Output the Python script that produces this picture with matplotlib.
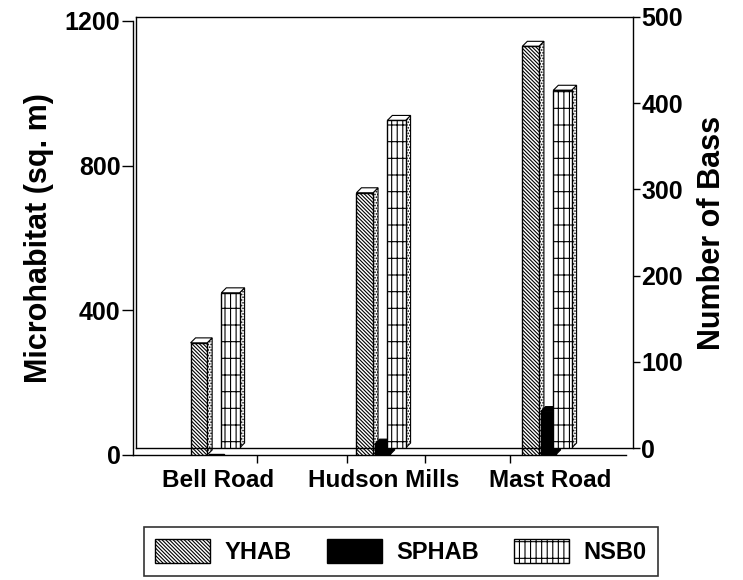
import matplotlib
matplotlib.use("Agg")
import matplotlib.pyplot as plt
from matplotlib.patches import Polygon, Patch
import numpy as np

plt.rcParams['font.family'] = ['Liberation Sans', 'DejaVu Sans']
plt.rcParams['font.weight'] = 'bold'
plt.rcParams['hatch.linewidth'] = 0.8

sites = ["Bell Road", "Hudson Mills", "Mast Road"]
yhab = [310, 725, 1130]      # microhabitat (sq. m), left axis
sphab = [2, 30, 120]         # microhabitat (sq. m), left axis
nsbo = [180, 380, 415]       # number of bass, right axis
left_ticks = [0, 400, 800, 1200]
right_ticks = [0, 100, 200, 300, 400, 500]

W, H = 743, 580
fig = plt.figure(figsize=(W / 100, H / 100), dpi=100)

def fpos(x0, x1, ytop, ybot):
    return [x0 / W, (H - ybot) / H, (x1 - x0) / W, (ybot - ytop) / H]

ax = fig.add_axes(fpos(133, 626, 21, 455))
ax2 = fig.add_axes(fpos(136, 633, 17, 448))
ax2.patch.set_alpha(0)

x = np.arange(len(sites))
ax.set_xlim(-0.512, 2.46)
ax2.set_xlim(-0.494, 2.5)
ax.set_ylim(0, 1200)
ax2.set_ylim(0, 500)

for s in ['top', 'right']:
    ax.spines[s].set_visible(False)
for s in ['bottom', 'top', 'left', 'right']:
    ax2.spines[s].set_visible(True)
for a in (ax, ax2):
    for s in a.spines.values():
        s.set_linewidth(1.0)

ax.set_yticks(left_ticks)
ax.set_yticklabels([str(t) for t in left_ticks], fontsize=18, fontweight='bold')
ax.tick_params(axis='y', direction='out', length=8, width=1, pad=1)
ax.set_xticks(x)
ax.set_xticklabels(sites, fontsize=17.5, fontweight='bold')
ax.tick_params(axis='x', which='major', length=0, pad=10)
ax.set_xticks([0.235, 0.777, 1.247, 1.759], minor=True)
ax.tick_params(axis='x', which='minor', direction='out', length=6, width=1)

ax2.yaxis.tick_right()
ax2.yaxis.set_label_position('right')
ax2.set_yticks(right_ticks)
ax2.set_yticklabels([str(t) for t in right_ticks], fontsize=18, fontweight='bold')
ax2.tick_params(axis='y', direction='out', length=5, width=1, pad=1)
ax2.set_xticks([])

ax.set_ylabel("Microhabitat (sq. m)", fontsize=22, fontweight='bold', labelpad=8)
ax2.set_ylabel("Number of Bass", fontsize=22, fontweight='bold', labelpad=10)

bw = 0.1
off = {'y': -0.115, 's': -0.01, 'n': 0.075}
d = 5  # depth in pixels

def bar3d(a, xs, vals, width, hatch, fc, sidefc, z):
    bars = a.bar(xs, vals, width, facecolor=fc, edgecolor='black', hatch=hatch,
                 linewidth=1.0, zorder=z)
    fig.canvas.draw()
    for b, v in zip(bars, vals):
        if v <= 5:
            continue
        x0, y0 = b.get_x(), b.get_y()
        x1, y1 = x0 + b.get_width(), y0 + b.get_height()
        (px0, py0) = a.transData.transform((x0, y0))
        (px1, py1) = a.transData.transform((x1, y1))
        side = Polygon([(px1, py0), (px1 + d, py0 + d), (px1 + d, py1 + d), (px1, py1)],
                       closed=True, transform=None, facecolor=sidefc, edgecolor='black',
                       hatch='......' if sidefc == 'white' else None, linewidth=0.8,
                       zorder=z - 0.1)
        top = Polygon([(px0, py1), (px0 + d, py1 + d), (px1 + d, py1 + d), (px1, py1)],
                      closed=True, transform=None, facecolor=fc,
                      edgecolor='black', linewidth=0.8, zorder=z - 0.1)
        a.add_artist(side)
        a.add_artist(top)
    return bars

bar3d(ax, x + off['y'], yhab, bw, '\\' * 9, 'white', 'white', 3)
bar3d(ax, x + off['s'], sphab, bw * 0.9, None, 'black', 'black', 4)
bar3d(ax2, x + off['n'], nsbo, bw * 1.1, '|||-', 'white', 'white', 5)

handles = [Patch(facecolor='white', edgecolor='black', hatch='\\' * 9),
           Patch(facecolor='black', edgecolor='black'),
           Patch(facecolor='white', edgecolor='black', hatch='|||-')]
leg = fig.legend(handles, ["YHAB", "SPHAB", "NSB0"], loc='center',
                 bbox_to_anchor=(401 / W, 1 - 551.5 / H), ncol=3,
                 prop={'size': 17, 'weight': 'bold'}, frameon=True, fancybox=False,
                 edgecolor='black', handlelength=2.33, handleheight=1.15,
                 columnspacing=1.5, handletextpad=0.6, borderpad=0.5,
                 borderaxespad=0)
leg.get_frame().set_linewidth(1.2)

fig.savefig("out.png", dpi=100)
